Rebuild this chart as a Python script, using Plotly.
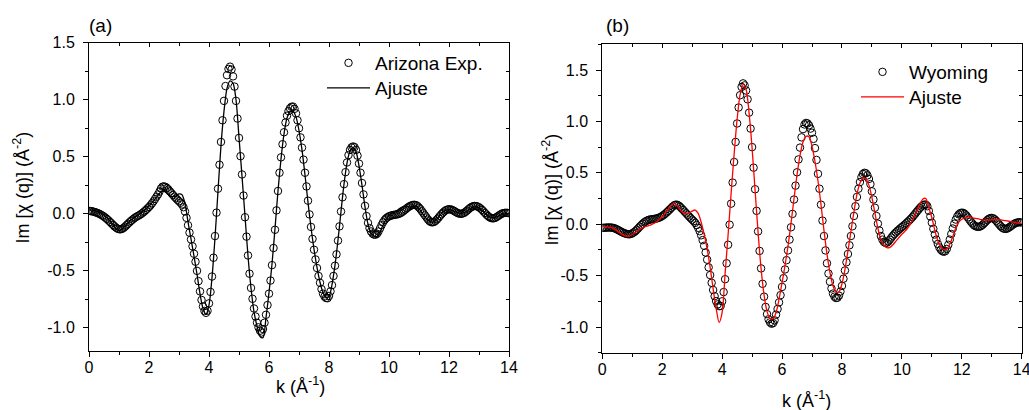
import plotly.graph_objects as go

# ---------------- data ----------------
k_step_exp = 0.05
k_step_fit = 0.1

exp_a = [
    0.025, 0.024, 0.022, 0.019, 0.015, 0.010, 0.005, -0.001, -0.008, -0.016, -0.025, -0.035, -0.046, -0.058, -0.071, -0.084, -0.097, -0.110, -0.121, -0.130,
    -0.135, -0.136, -0.132, -0.124, -0.113, -0.100, -0.087, -0.074, -0.062, -0.051, -0.040, -0.031, -0.023, -0.016, -0.008, 0.001, 0.011, 0.022, 0.034, 0.047,
    0.060, 0.075, 0.092, 0.110, 0.130, 0.150, 0.170, 0.195, 0.222, 0.238, 0.240, 0.236, 0.226, 0.212, 0.196, 0.180, 0.165, 0.150, 0.136, 0.122,
    0.110, 0.097, 0.082, 0.058, 0.020, -0.035, -0.100, -0.165, -0.225, -0.285, -0.350, -0.420, -0.500, -0.590, -0.680, -0.755, -0.812, -0.852, -0.868, -0.850,
    -0.785, -0.685, -0.550, -0.385, -0.195, 0.010, 0.220, 0.430, 0.630, 0.820, 0.990, 1.120, 1.215, 1.270, 1.290, 1.265, 1.205, 1.115, 0.990, 0.835,
    0.665, 0.505, 0.345, 0.160, -0.030, -0.200, -0.365, -0.525, -0.650, -0.745, -0.830, -0.900, -0.955, -0.995, -1.025, -1.040, -1.010, -0.955, -0.885, -0.800,
    -0.700, -0.585, -0.450, -0.300, -0.140, 0.030, 0.200, 0.360, 0.495, 0.610, 0.715, 0.800, 0.860, 0.900, 0.925, 0.938, 0.940, 0.920, 0.880, 0.820,
    0.750, 0.670, 0.580, 0.475, 0.360, 0.240, 0.115, -0.005, -0.115, -0.220, -0.315, -0.400, -0.475, -0.545, -0.605, -0.660, -0.700, -0.725, -0.738, -0.740,
    -0.720, -0.680, -0.625, -0.545, -0.455, -0.355, -0.235, -0.110, 0.020, 0.145, 0.260, 0.365, 0.450, 0.515, 0.560, 0.582, 0.590, 0.585, 0.560, 0.510,
    0.440, 0.360, 0.270, 0.170, 0.070, -0.020, -0.080, -0.125, -0.155, -0.173, -0.182, -0.183, -0.175, -0.155, -0.128, -0.100, -0.075, -0.055, -0.040, -0.030,
    -0.022, -0.017, -0.013, -0.010, -0.008, -0.006, -0.003, 0.002, 0.009, 0.018, 0.028, 0.039, 0.050, 0.060, 0.068, 0.074, 0.078, 0.079, 0.076, 0.068,
    0.055, 0.040, 0.022, 0.004, -0.014, -0.032, -0.050, -0.064, -0.073, -0.075, -0.071, -0.062, -0.049, -0.034, -0.018, -0.003, 0.011, 0.023, 0.032, 0.038,
    0.040, 0.039, 0.035, 0.028, 0.020, 0.012, 0.005, 0.001, 0.000, 0.002, 0.008, 0.017, 0.028, 0.040, 0.051, 0.060, 0.066, 0.069, 0.068, 0.064,
    0.057, 0.047, 0.035, 0.021, 0.007, -0.007, -0.020, -0.030, -0.037, -0.040, -0.039, -0.034, -0.026, -0.017, -0.008, 0.000, 0.005, 0.008, 0.009, 0.008,
    0.006,
]

fit_a = [
    0.035, 0.032, 0.026, 0.017, 0.005, -0.012, -0.035, -0.062, -0.095, -0.128,
    -0.148, -0.135, -0.108, -0.080, -0.055, -0.036, -0.018, 0.000, 0.022, 0.045,
    0.070, 0.097, 0.128, 0.162, 0.192, 0.200, 0.178, 0.158, 0.150, 0.158,
    0.175, 0.168, 0.090, -0.070, -0.220, -0.370, -0.530, -0.700, -0.830, -0.880,
    -0.800, -0.560, -0.210, 0.200, 0.600, 0.900, 1.100, 1.165, 1.145, 1.000,
    0.670, 0.330, -0.020, -0.370, -0.650, -0.860, -0.985, -1.075, -1.085, -0.910,
    -0.690, -0.440, -0.130, 0.200, 0.480, 0.700, 0.840, 0.895, 0.900, 0.850,
    0.730, 0.560, 0.340, 0.100, -0.120, -0.310, -0.470, -0.600, -0.690, -0.730,
    -0.725, -0.620, -0.450, -0.230, 0.020, 0.260, 0.445, 0.550, 0.580, 0.545,
    0.420, 0.250, 0.060, -0.090, -0.170, -0.195, -0.200, -0.160, -0.100, -0.050,
    -0.015, 0.005, 0.020, 0.035, 0.055, 0.065, 0.062, 0.058, 0.065, 0.070,
    0.045, 0.010, -0.025, -0.055, -0.072, -0.070, -0.045, -0.010, 0.018, 0.033,
    0.036, 0.030, 0.018, 0.008, 0.004, 0.010, 0.025, 0.045, 0.058, 0.062,
    0.052, 0.030, 0.005, -0.018, -0.032, -0.035, -0.025, -0.012, -0.003, 0.000,
    -0.002,
]

exp_b = [
    -0.035, -0.035, -0.034, -0.033, -0.032, -0.032, -0.033, -0.035, -0.039, -0.045, -0.052, -0.060, -0.068, -0.076, -0.083, -0.089, -0.094, -0.097, -0.098, -0.095,
    -0.089, -0.080, -0.069, -0.055, -0.040, -0.024, -0.009, 0.005, 0.018, 0.028, 0.036, 0.042, 0.046, 0.048, 0.050, 0.052, 0.055, 0.059, 0.064, 0.071,
    0.080, 0.090, 0.102, 0.115, 0.129, 0.143, 0.158, 0.172, 0.184, 0.190, 0.189, 0.181, 0.168, 0.153, 0.138, 0.122, 0.106, 0.090, 0.074, 0.059,
    0.044, 0.030, 0.013, -0.008, -0.035, -0.068, -0.108, -0.155, -0.210, -0.275, -0.345, -0.420, -0.495, -0.570, -0.640, -0.700, -0.748, -0.780, -0.797, -0.795,
    -0.750, -0.660, -0.535, -0.380, -0.200, -0.005, 0.200, 0.405, 0.605, 0.800, 0.980, 1.135, 1.255, 1.335, 1.370, 1.350, 1.300, 1.215, 1.085, 0.930,
    0.750, 0.550, 0.340, 0.130, -0.070, -0.260, -0.430, -0.580, -0.705, -0.805, -0.875, -0.925, -0.955, -0.968, -0.962, -0.935, -0.880, -0.825, -0.760, -0.690,
    -0.610, -0.525, -0.440, -0.350, -0.255, -0.150, -0.030, 0.100, 0.240, 0.375, 0.505, 0.630, 0.745, 0.845, 0.925, 0.970, 0.985, 0.980, 0.962, 0.930,
    0.890, 0.830, 0.740, 0.625, 0.490, 0.345, 0.190, 0.035, -0.115, -0.255, -0.380, -0.480, -0.560, -0.625, -0.675, -0.705, -0.718, -0.715, -0.695, -0.655,
    -0.600, -0.530, -0.450, -0.370, -0.290, -0.205, -0.115, -0.020, 0.080, 0.175, 0.265, 0.345, 0.410, 0.458, 0.488, 0.500, 0.495, 0.475, 0.440, 0.390,
    0.320, 0.240, 0.160, 0.080, 0.005, -0.062, -0.115, -0.150, -0.172, -0.182, -0.180, -0.168, -0.150, -0.130, -0.112, -0.095, -0.080, -0.066, -0.053, -0.040,
    -0.028, -0.016, -0.003, 0.010, 0.024, 0.038, 0.053, 0.069, 0.086, 0.104, 0.122, 0.140, 0.157, 0.172, 0.184, 0.191, 0.190, 0.175, 0.130, 0.075,
    0.015, -0.045, -0.100, -0.150, -0.192, -0.225, -0.248, -0.262, -0.268, -0.262, -0.240, -0.200, -0.150, -0.095, -0.042, 0.005, 0.045, 0.075, 0.096, 0.108,
    0.112, 0.110, 0.100, 0.085, 0.066, 0.046, 0.026, 0.008, -0.008, -0.018, -0.024, -0.026, -0.024, -0.016, -0.005, 0.010, 0.025, 0.040, 0.052, 0.059,
    0.061, 0.057, 0.047, 0.032, 0.015, -0.003, -0.020, -0.034, -0.043, -0.046, -0.044, -0.037, -0.027, -0.016, -0.005, 0.004, 0.011, 0.016, 0.019, 0.019,
    0.016,
]

fit_b = [
    -0.022, -0.024, -0.027, -0.032, -0.045, -0.065, -0.088, -0.106, -0.116, -0.115,
    -0.100, -0.080, -0.058, -0.040, -0.028, -0.018, -0.008, 0.005, 0.022, 0.045,
    0.072, 0.105, 0.145, 0.185, 0.200, 0.180, 0.140, 0.110, 0.100, 0.110,
    0.128, 0.138, 0.105, 0.020, -0.100, -0.240, -0.420, -0.630, -0.820, -0.955,
    -0.860, -0.480, -0.100, 0.300, 0.680, 1.020, 1.260, 1.360, 1.310, 1.080,
    0.740, 0.330, -0.080, -0.430, -0.690, -0.850, -0.915, -0.920, -0.860, -0.730,
    -0.570, -0.400, -0.210, 0.010, 0.250, 0.480, 0.670, 0.800, 0.855, 0.850,
    0.760, 0.610, 0.420, 0.190, -0.060, -0.290, -0.470, -0.600, -0.660, -0.660,
    -0.580, -0.440, -0.260, -0.070, 0.120, 0.290, 0.400, 0.448, 0.440, 0.380,
    0.260, 0.110, -0.040, -0.150, -0.205, -0.228, -0.225, -0.200, -0.165, -0.130,
    -0.098, -0.070, -0.035, 0.010, 0.065, 0.130, 0.195, 0.245, 0.250, 0.160,
    0.065, -0.060, -0.160, -0.220, -0.247, -0.240, -0.195, -0.120, -0.035, 0.020,
    0.048, 0.062, 0.068, 0.066, 0.060, 0.054, 0.048, 0.043, 0.040, 0.040,
    0.042, 0.045, 0.045, 0.042, 0.038, 0.033, 0.028, 0.022, 0.016, 0.010,
    0.005,
]

k_exp = [round(i * k_step_exp, 2) for i in range(len(exp_a))]
k_fit = [round(i * k_step_fit, 2) for i in range(len(fit_a))]

x_tick_vals = [0, 2, 4, 6, 8, 10, 12, 14]
x_tick_text = ["0", "2", "4", "6", "8", "10", "12", "14"]
y_tick_vals = [-1.0, -0.5, 0.0, 0.5, 1.0, 1.5]
y_tick_text = ["-1.0", "-0.5", "0.0", "0.5", "1.0", "1.5"]

names_a = ["Arizona Exp.", "Ajuste"]
names_b = ["Wyoming", "Ajuste"]
panel_labels = ["(a)", "(b)"]
x_title = "k (Å<sup>-1</sup>)"
y_title = "Im [χ (q)] (Å<sup>-2</sup>)"

# ---------------- layout helpers ----------------
OFF = 0  # page body margin is reset to 0 (see post_script)
W, H = 1029, 410
FONT = "Liberation Sans, Arial, sans-serif"


def px_x(p):
    return (p - OFF) / W


def px_y(p):
    return 1 - (p - OFF) / H


dom_xa = [px_x(89), px_x(509)]
dom_ya = [px_y(350.7), px_y(42.7)]
dom_xb = [px_x(602.3), px_x(1021.7)]
dom_yb = [px_y(352.7), px_y(44.3)]

range_x = [0, 14]
range_ya = [-1.2, 1.5]
range_yb = [-1.25, 1.75]

tickfont = dict(family=FONT, size=16, color="black")


def main_x(domain, anchor):
    return dict(domain=domain, anchor=anchor, range=range_x, tickmode="array",
                tickvals=x_tick_vals, ticktext=x_tick_text, ticks="outside",
                ticklen=5, tickwidth=1, tickcolor="black",
                minor=dict(tickmode="linear", tick0=0, dtick=1, ticks="outside",
                           ticklen=3, tickwidth=1, tickcolor="black"),
                showline=True, linecolor="black", linewidth=1, mirror=True,
                showgrid=False, zeroline=False, tickfont=tickfont,
                ticklabelstandoff=-3, ticklabeloverflow="allow", automargin=False)


def main_y(domain, anchor, rng):
    return dict(domain=domain, anchor=anchor, range=rng, tickmode="array",
                tickvals=y_tick_vals, ticktext=y_tick_text, ticks="outside",
                ticklen=5, tickwidth=1, tickcolor="black",
                minor=dict(tickmode="linear", tick0=0, dtick=0.25, ticks="outside",
                           ticklen=3, tickwidth=1, tickcolor="black"),
                showline=True, linecolor="black", linewidth=1, mirror=True,
                showgrid=False, zeroline=False, tickfont=tickfont,
                ticklabelstandoff=5, ticklabeloverflow="allow", automargin=False)


def top_x(over, anchor):
    return dict(overlaying=over, anchor=anchor, side="top", range=range_x,
                tickmode="array", tickvals=x_tick_vals, showticklabels=False,
                ticks="inside", ticklen=4, tickwidth=1, tickcolor="black",
                minor=dict(tickmode="linear", tick0=0, dtick=1, ticks="inside",
                           ticklen=3, tickwidth=1, tickcolor="black"),
                showline=False, showgrid=False, zeroline=False, automargin=False)


def right_y(over, anchor, rng):
    return dict(overlaying=over, anchor=anchor, side="right", range=rng,
                tickmode="array", tickvals=y_tick_vals, showticklabels=False,
                ticks="inside", ticklen=4, tickwidth=1, tickcolor="black",
                minor=dict(tickmode="linear", tick0=0, dtick=0.25, ticks="inside",
                           ticklen=3, tickwidth=1, tickcolor="black"),
                showline=False, showgrid=False, zeroline=False, automargin=False)


fig = go.Figure()

marker_style = dict(symbol="circle-open", size=7.5, color="black",
                    line=dict(width=1, color="black"))

# panel (a)
fig.add_trace(go.Scatter(x=k_exp, y=exp_a, mode="markers", name=names_a[0],
                         marker=marker_style, xaxis="x", yaxis="y", legend="legend"))
fig.add_trace(go.Scatter(x=k_fit, y=fit_a, mode="lines", name=names_a[1],
                         line=dict(color="black", width=1.3, shape="spline", smoothing=0.8),
                         xaxis="x", yaxis="y", legend="legend2"))
# panel (b)
fig.add_trace(go.Scatter(x=k_exp, y=exp_b, mode="markers", name=names_b[0],
                         marker=marker_style, xaxis="x2", yaxis="y2", legend="legend3"))
fig.add_trace(go.Scatter(x=k_fit, y=fit_b, mode="lines", name=names_b[1],
                         line=dict(color="#ff0000", width=1.3, shape="spline", smoothing=0.8),
                         xaxis="x2", yaxis="y2", legend="legend4"))
# empty traces to activate mirror tick axes
fig.add_trace(go.Scatter(x=[], y=[], xaxis="x3", yaxis="y3", showlegend=False, hoverinfo="skip"))
fig.add_trace(go.Scatter(x=[], y=[], xaxis="x4", yaxis="y4", showlegend=False, hoverinfo="skip"))

legend_font = dict(family=FONT, size=19, color="black")


def leg(xpx, ypx):
    return dict(x=px_x(xpx), y=px_y(ypx), xanchor="left", yanchor="middle",
                bgcolor="rgba(0,0,0,0)", font=legend_font, itemwidth=43,
                borderwidth=0)


fig.update_layout(
    width=W, height=H, autosize=False,
    margin=dict(l=0, r=0, t=0, b=0, pad=0),
    paper_bgcolor="white", plot_bgcolor="white",
    xaxis=main_x(dom_xa, "y"),
    yaxis=main_y(dom_ya, "x", range_ya),
    xaxis2=main_x(dom_xb, "y2"),
    yaxis2=main_y(dom_yb, "x2", range_yb),
    xaxis3=top_x("x", "y"),
    yaxis3=right_y("y", "x", range_ya),
    xaxis4=top_x("x2", "y2"),
    yaxis4=right_y("y2", "x2", range_yb),
    legend=leg(322, 63),
    legend2=leg(322, 88),
    legend3=leg(856, 72),
    legend4=leg(856, 97),
    showlegend=True,
)

ann_font = dict(family=FONT, size=18, color="black")
annotations = [
    dict(text=panel_labels[0], x=px_x(87), y=px_y(25), xanchor="left", yanchor="middle",
         font=dict(family=FONT, size=19, color="black")),
    dict(text=panel_labels[1], x=px_x(604), y=px_y(25), xanchor="left", yanchor="middle",
         font=dict(family=FONT, size=19, color="black")),
    dict(text=y_title, x=px_x(22.5), y=px_y(188), textangle=-90, xanchor="center",
         yanchor="middle", font=ann_font),
    dict(text=y_title, x=px_x(550.5), y=px_y(190), textangle=-90, xanchor="center",
         yanchor="middle", font=ann_font),
    dict(text=x_title, x=px_x(300), y=px_y(385), xanchor="center", yanchor="middle",
         font=ann_font),
    dict(text=x_title, x=px_x(806), y=px_y(399), xanchor="center", yanchor="middle",
         font=ann_font),
]
for a in annotations:
    a.update(xref="paper", yref="paper", showarrow=False)
fig.update_layout(annotations=annotations)

fig.write_html(
    "out.html",
    config={"displayModeBar": False},
    post_script="document.body.style.margin='0px';document.body.style.overflow='hidden';",
)
